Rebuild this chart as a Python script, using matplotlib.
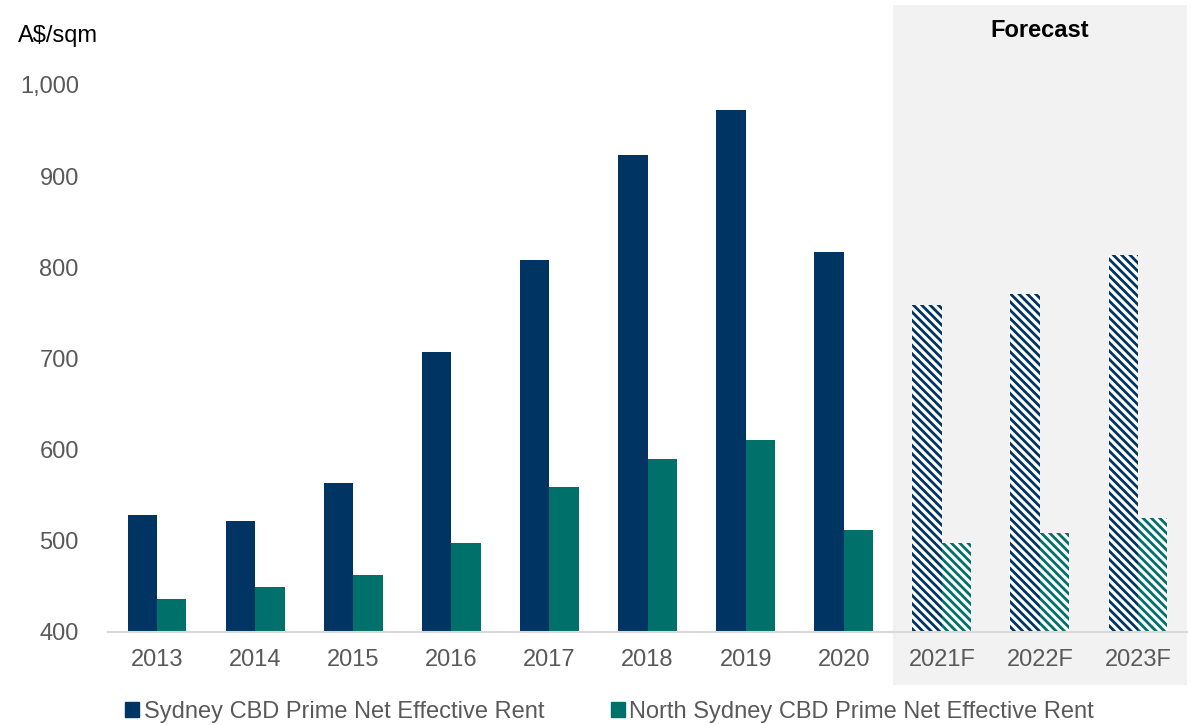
import numpy as np
import matplotlib.pyplot as plt
from matplotlib.patches import Patch

years = ['2013', '2014', '2015', '2016', '2017', '2018', '2019', '2020', '2021F', '2022F', '2023F']
sydney = [528, 522, 563, 707, 808, 923, 972, 817, 759, 771, 813]
north_sydney = [436, 449, 462, 498, 559, 590, 611, 512, 498, 509, 525]
n_actual = 8

navy = '#003462'
teal = '#00706A'
grey = '#595959'

plt.rcParams['font.family'] = ['Liberation Sans', 'DejaVu Sans']
plt.rcParams['hatch.linewidth'] = 2.0

fig = plt.figure(figsize=(11.91, 7.25), dpi=100)
ax = fig.add_axes([0.0907, 0.1283, 0.906, 0.7545])

x = np.arange(len(years))
w = 0.3

# actual years: solid bars
ax.bar(x[:n_actual] - w / 2, sydney[:n_actual], w, color=navy, zorder=2)
ax.bar(x[:n_actual] + w / 2, north_sydney[:n_actual], w, color=teal, zorder=2)

# forecast years: hatched bars
ax.bar(x[n_actual:] - w / 2, sydney[n_actual:], w, facecolor='white', edgecolor=navy,
       hatch='\\\\\\\\', linewidth=0, zorder=2)
ax.bar(x[n_actual:] + w / 2, north_sydney[n_actual:], w, facecolor='white', edgecolor=teal,
       hatch='\\\\\\\\', linewidth=0, zorder=2)

# forecast shading
trans = ax.get_xaxis_transform()
ax.add_patch(plt.Rectangle((n_actual - 0.5, -0.097), len(years) - n_actual, 1.243,
                           transform=trans, facecolor='#f2f2f2', edgecolor='none',
                           clip_on=False, zorder=0))
ax.text((n_actual - 0.5 + len(years) - 0.5) / 2, 1.1, 'Forecast', transform=trans,
        ha='center', va='center', fontsize=17, fontweight='bold', color='black')

ax.set_xlim(-0.5, len(years) - 0.5)
ax.set_ylim(400, 1000)
ax.set_yticks(range(400, 1001, 100))
ax.set_yticklabels([f'{v:,}' for v in range(400, 1001, 100)])
ax.set_xticks(x)
ax.set_xticklabels(years)
ax.tick_params(axis='both', length=0, labelsize=17, labelcolor=grey)
ax.tick_params(axis='x', pad=12)
ax.tick_params(axis='y', pad=21)
ax.patch.set_alpha(0)

for s in ['top', 'right', 'left']:
    ax.spines[s].set_visible(False)
ax.spines['bottom'].set_color('#d9d9d9')
ax.spines['bottom'].set_linewidth(1.5)
ax.spines['bottom'].set_zorder(3)

fig.text(0.015, 0.95, 'A$/sqm', fontsize=17, color='black', va='center')

handles = [Patch(color=navy, label='Sydney CBD Prime Net Effective Rent'),
           Patch(color=teal, label='North Sydney CBD Prime Net Effective Rent')]
fig.legend(handles=handles, loc='center left', bbox_to_anchor=(0.105, 0.018), ncol=2,
           frameon=False, fontsize=17, labelcolor=grey, handlelength=0.6, handleheight=0.6,
           handletextpad=0.2, columnspacing=2.8, borderpad=0, borderaxespad=0)

fig.savefig('out.png', dpi=100)
